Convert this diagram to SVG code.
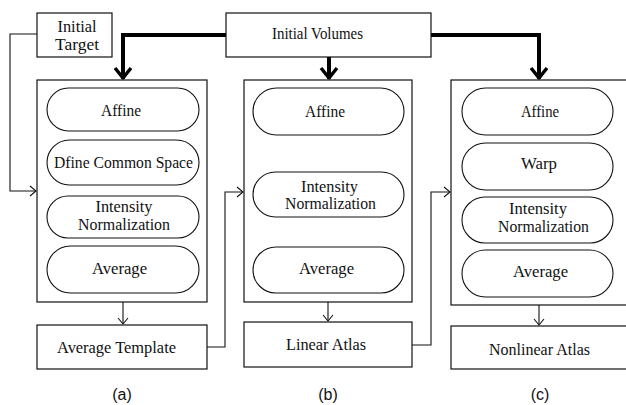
<svg xmlns="http://www.w3.org/2000/svg" width="626" height="405" viewBox="0 0 626 405">
<style>
  .box { fill: #fff; stroke: #111; stroke-width: 1.2; }
  .pill { fill: #fff; stroke: #111; stroke-width: 1.1; }
  .t { font-family: "Liberation Serif", Tinos, "Times New Roman", "DejaVu Serif", "Noto Serif", serif; font-size: 16px; fill: #111; text-anchor: middle; }
  .lab { font-family: "Liberation Sans", Arial, sans-serif; font-size: 16px; fill: #111; text-anchor: middle; }
  .thin { fill: none; stroke: #111; stroke-width: 1.1; }
  .thick { fill: none; stroke: #000; stroke-width: 4; }
</style>
<defs>
  <marker id="ahThin" markerUnits="userSpaceOnUse" markerWidth="14" markerHeight="14" refX="0" refY="0" orient="auto" overflow="visible">
    <path d="M-6,-5 L0,0 L-6,5" fill="none" stroke="#111" stroke-width="1.1"/>
  </marker>
  <marker id="ahThick" markerUnits="userSpaceOnUse" markerWidth="24" markerHeight="24" refX="0" refY="0" orient="auto" overflow="visible">
    <path d="M-11,-8 L-1,0 L-11,8" fill="none" stroke="#000" stroke-width="3.5" stroke-linejoin="round"/>
  </marker>
</defs>
<rect width="626" height="405" fill="#fff"/>

<g id="connectors">
  <path class="thin" d="M37,34 H10 V191 H36" marker-end="url(#ahThin)"/>
  <path class="thick" d="M226,35 H123 V79" marker-end="url(#ahThick)"/>
  <path class="thick" d="M329,57 V79" marker-end="url(#ahThick)"/>
  <path class="thick" d="M431,35 H539 V79" marker-end="url(#ahThick)"/>
  <path class="thin" d="M123,302 V324" marker-end="url(#ahThin)"/>
  <path class="thin" d="M328,302 V321" marker-end="url(#ahThin)"/>
  <path class="thin" d="M539,305 V325" marker-end="url(#ahThin)"/>
  <path class="thin" d="M207,347 H225 V192 H243" marker-end="url(#ahThin)"/>
  <path class="thin" d="M412,345 H431 V192 H450" marker-end="url(#ahThin)"/>
</g>

<g id="initial-target">
  <rect class="box" x="37" y="13" width="75" height="44"/>
  <text class="t" x="77" y="32" textLength="39" lengthAdjust="spacingAndGlyphs">Initial</text>
  <text class="t" x="77" y="50" textLength="44" lengthAdjust="spacingAndGlyphs">Target</text>
</g>

<g id="initial-volumes">
  <rect class="box" x="226" y="13" width="205" height="44"/>
  <text class="t" x="317.5" y="39" textLength="91" lengthAdjust="spacingAndGlyphs">Initial Volumes</text>
</g>

<g id="column-a">
  <rect class="box" x="37" y="80" width="170" height="222"/>
  <g id="a-affine">
    <rect class="pill" x="47" y="88" width="152" height="43" rx="21.5"/>
    <text class="t" x="121" y="116" textLength="40" lengthAdjust="spacingAndGlyphs">Affine</text>
  </g>
  <g id="a-define">
    <rect class="pill" x="47" y="140" width="152" height="45" rx="22.5"/>
    <text class="t" x="123.5" y="168" textLength="139" lengthAdjust="spacingAndGlyphs">Dfine Common Space</text>
  </g>
  <g id="a-intensity">
    <rect class="pill" x="47" y="196" width="152" height="42" rx="21"/>
    <text class="t" x="124" y="212" textLength="57" lengthAdjust="spacingAndGlyphs">Intensity</text>
    <text class="t" x="124" y="230" textLength="92" lengthAdjust="spacingAndGlyphs">Normalization</text>
  </g>
  <g id="a-average">
    <rect class="pill" x="47" y="246" width="152" height="47" rx="23.5"/>
    <text class="t" x="119.5" y="274" textLength="55" lengthAdjust="spacingAndGlyphs">Average</text>
  </g>
</g>

<g id="average-template">
  <rect class="box" x="37" y="325" width="170" height="44"/>
  <text class="t" x="116.5" y="353" textLength="119" lengthAdjust="spacingAndGlyphs">Average Template</text>
</g>

<g id="column-b">
  <rect class="box" x="244" y="80" width="168" height="222"/>
  <g id="b-affine">
    <rect class="pill" x="253" y="88" width="151" height="47" rx="23.5"/>
    <text class="t" x="325" y="117" textLength="40" lengthAdjust="spacingAndGlyphs">Affine</text>
  </g>
  <g id="b-intensity">
    <rect class="pill" x="253" y="172" width="151" height="45" rx="22.5"/>
    <text class="t" x="329.5" y="192" textLength="57" lengthAdjust="spacingAndGlyphs">Intensity</text>
    <text class="t" x="330.5" y="209" textLength="91" lengthAdjust="spacingAndGlyphs">Normalization</text>
  </g>
  <g id="b-average">
    <rect class="pill" x="253" y="247" width="151" height="46" rx="23"/>
    <text class="t" x="326.5" y="274" textLength="55" lengthAdjust="spacingAndGlyphs">Average</text>
  </g>
</g>

<g id="linear-atlas">
  <rect class="box" x="244" y="322" width="168" height="45"/>
  <text class="t" x="326" y="350" textLength="80" lengthAdjust="spacingAndGlyphs">Linear Atlas</text>
</g>

<g id="column-c">
  <rect class="box" x="451" y="80" width="180" height="225"/>
  <g id="c-affine">
    <rect class="pill" x="462" y="88" width="151" height="47" rx="23.5"/>
    <text class="t" x="540" y="117" textLength="38" lengthAdjust="spacingAndGlyphs">Affine</text>
  </g>
  <g id="c-warp">
    <rect class="pill" x="462" y="143" width="151" height="47" rx="23.5"/>
    <text class="t" x="539" y="169" textLength="36" lengthAdjust="spacingAndGlyphs">Warp</text>
  </g>
  <g id="c-intensity">
    <rect class="pill" x="462" y="197" width="151" height="46" rx="23"/>
    <text class="t" x="538" y="214" textLength="58" lengthAdjust="spacingAndGlyphs">Intensity</text>
    <text class="t" x="543.5" y="232" textLength="91" lengthAdjust="spacingAndGlyphs">Normalization</text>
  </g>
  <g id="c-average">
    <rect class="pill" x="462" y="250" width="151" height="47" rx="23.5"/>
    <text class="t" x="540.5" y="277" textLength="55" lengthAdjust="spacingAndGlyphs">Average</text>
  </g>
</g>

<g id="nonlinear-atlas">
  <rect class="box" x="451" y="326" width="180" height="43"/>
  <text class="t" x="539.5" y="355" textLength="101" lengthAdjust="spacingAndGlyphs">Nonlinear Atlas</text>
</g>

<g id="labels">
  <text class="lab" x="122" y="400">(a)</text>
  <text class="lab" x="328" y="400">(b)</text>
  <text class="lab" x="540" y="400">(c)</text>
</g>
</svg>
